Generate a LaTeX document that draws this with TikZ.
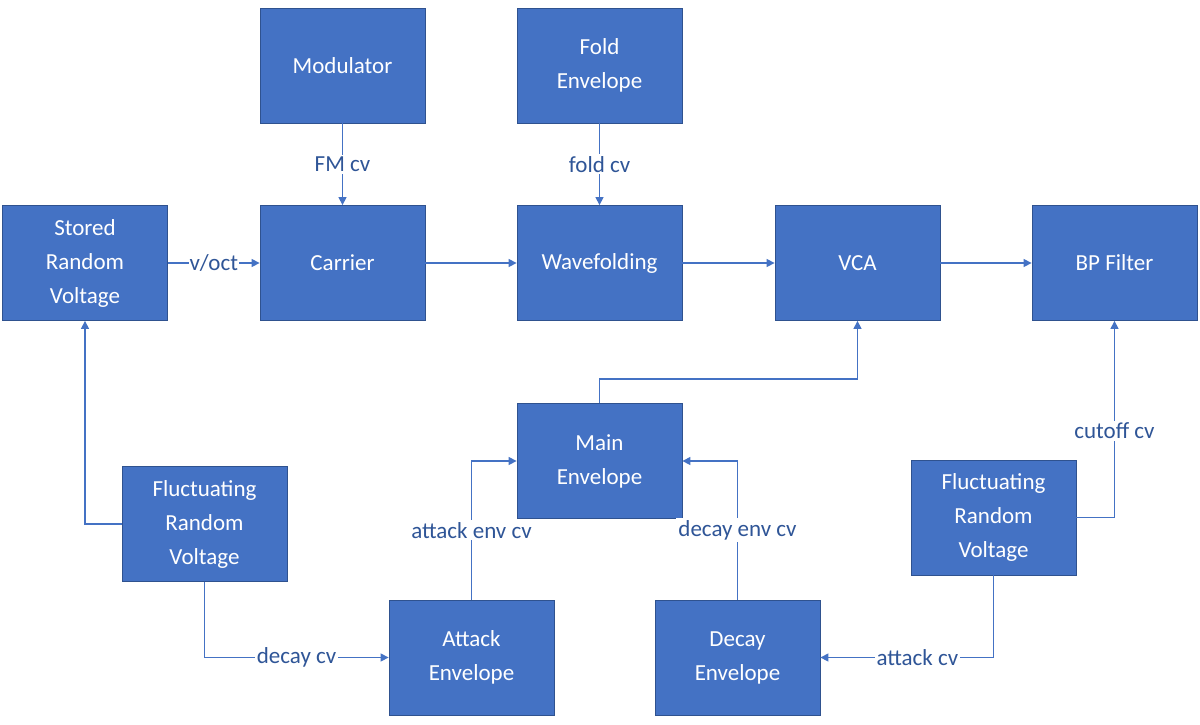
\documentclass[tikz,border=0pt]{standalone}
\usepackage{fontspec}
\setmainfont{Carlito}
\usetikzlibrary{arrows.meta}
\definecolor{bfill}{HTML}{4472C4}
\definecolor{bline}{HTML}{2F528F}
\definecolor{ltxt}{HTML}{2F5597}
\begin{document}
\begin{tikzpicture}[x=1pt,y=-1pt,
  box/.style={draw=bline,fill=bfill,line width=0.8pt,minimum width=165pt,minimum height=115pt,text=white,align=center,font=\fontsize{23}{34}\selectfont},
  con/.style={draw=bfill,line width=1.3pt,-{Triangle[length=8pt,width=8pt]}},
  lab/.style={fill=white,text=ltxt,inner sep=2pt,font=\fontsize{23}{28}\selectfont}]
\useasboundingbox (0,0) rectangle (1200,724);
\node[box] (mod) at (342.5,65.5) {Modulator};
\node[box] (fold) at (599.5,65.5) {Fold\\Envelope};
\node[box] (srv) at (85,263) {Stored\\Random\\Voltage};
\node[box] (car) at (342.5,263) {Carrier};
\node[box] (wf) at (599.5,263) {Wavefolding};
\node[box] (vca) at (857.5,263) {VCA};
\node[box] (bp) at (1114.5,263) {BP Filter};
\node[box] (me) at (599.5,461) {Main\\Envelope};
\node[box] (fl) at (204.5,524) {Fluctuating\\Random\\Voltage};
\node[box] (fr) at (993.5,517.5) {Fluctuating\\Random\\Voltage};
\node[box] (ae) at (471.5,657.5) {Attack\\Envelope};
\node[box] (de) at (737.5,657.5) {Decay\\Envelope};
\draw[con] (mod) -- node[lab]{FM cv} (car);
\draw[con] (fold) -- node[lab]{fold cv} (wf);
\draw[con] (srv) -- node[lab,inner sep=1pt]{v/oct} (car);
\draw[con] (car) -- (wf);
\draw[con] (wf) -- (vca);
\draw[con] (vca) -- (bp);
\draw[con] (me.north) -- ++(0,-24) -| (vca.south);
\draw[con] (fl.west) -| (srv.south);
\draw[con] (fl.south) |- node[lab,pos=0.75]{decay cv} (ae.west);
\draw[con] (ae.north) |- node[lab,pos=0.25]{attack env cv} (me.west);
\draw[con] (de.north) |- node[lab,pos=0.25]{decay env cv} (me.east);
\draw[con] (fr.south) |- node[lab,pos=0.72]{attack cv} (de.east);
\draw[con] (fr.east) -| node[lab,pos=0.72]{cutoff cv} (bp.south);
\end{tikzpicture}
\end{document}
